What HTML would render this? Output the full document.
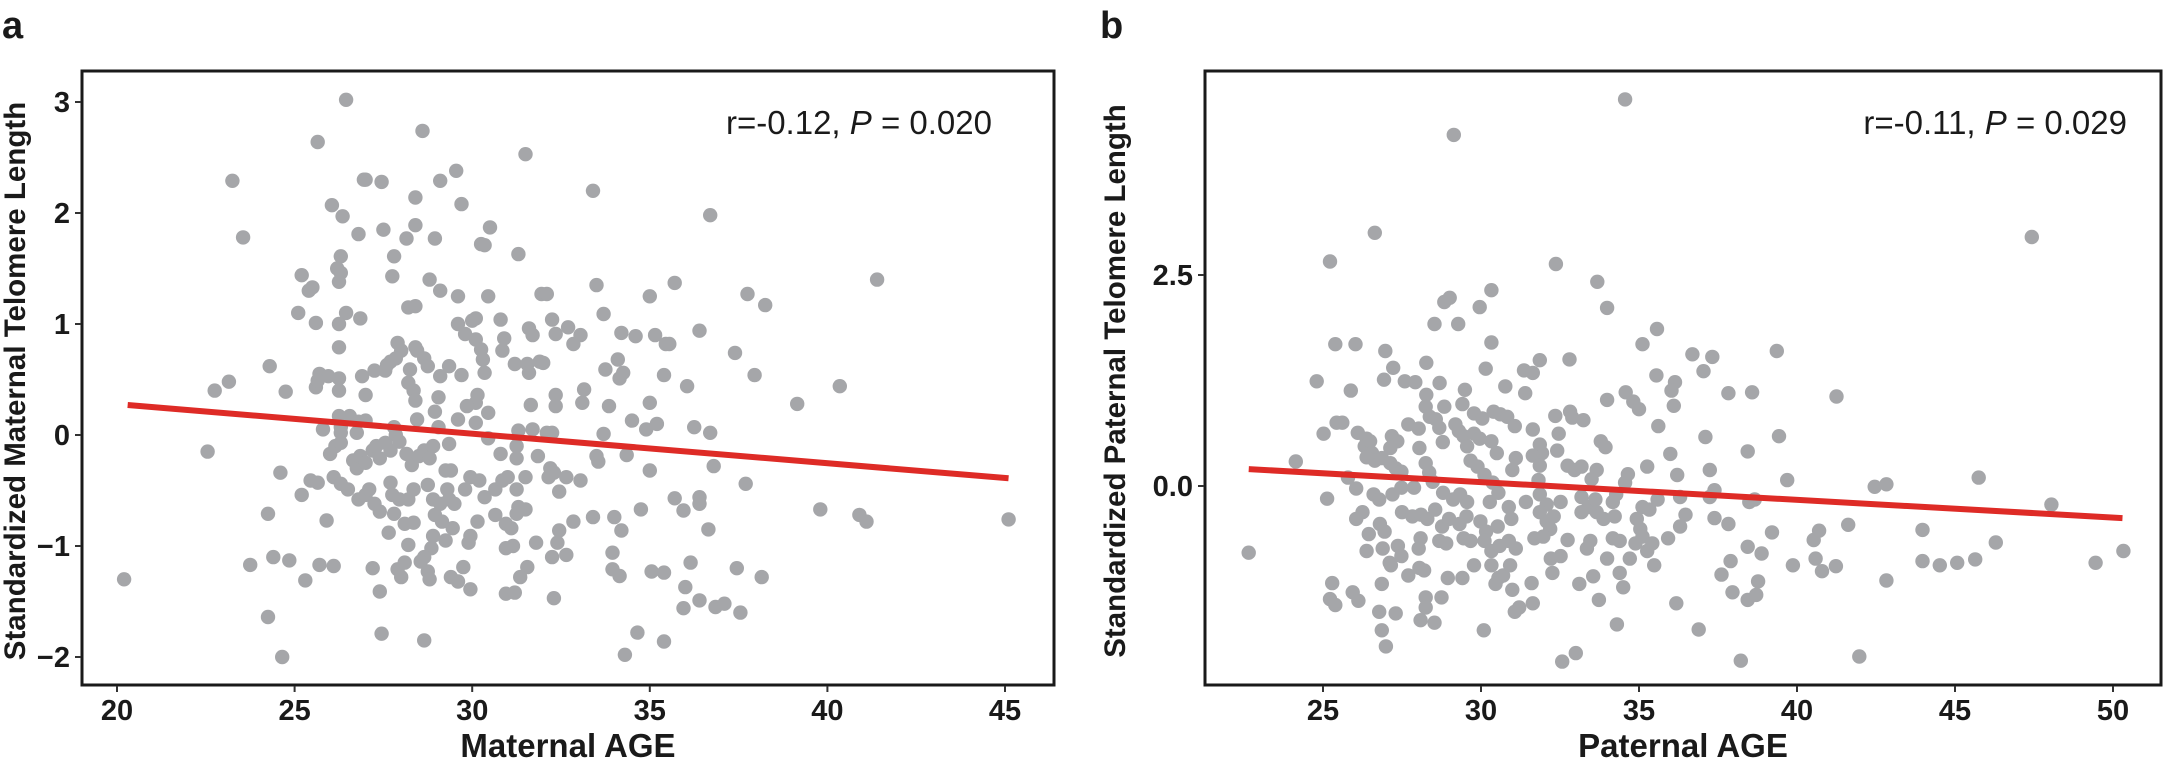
<!DOCTYPE html>
<html><head><meta charset="utf-8"><style>
html,body{margin:0;padding:0;background:#fff;}
svg{display:block;font-family:"Liberation Sans",Arial,sans-serif;}
</style></head><body>
<svg id="fig" width="2165" height="760" viewBox="0 0 2165 760" xmlns="http://www.w3.org/2000/svg">
<text x="2" y="38" font-size="38" font-weight="bold" fill="#1a1a1a">a</text>
<text x="1100" y="38" font-size="38" font-weight="bold" fill="#1a1a1a">b</text>
<g id="pa"></g>
<g id="pb"></g>
</svg>
<script>
// Panel a data (Maternal AGE vs standardized maternal telomere length)
const aAge = [26.45,28.6,25.65,31.5,23.25,26.95,27.0,27.45,29.1,29.55,33.4,28.4,26.05,29.7,26.35,36.7,23.55,26.8,27.5,28.4,30.5,28.15,28.95,30.25,30.35,27.8,31.3,26.3,26.2,26.3,26.25,25.2,25.4,25.5,27.75,28.8,29.1,29.6,30.45,33.5,35.7,35,37.75,38.25,41.4,31.95,32.1,25.1,25.6,26.45,26.25,26.85,28.2,28.4,33.7,29.6,30.0,30.1,30.8,32.25,31.6,31.7,32.7,33.05,32.85,34.2,34.6,35.15,35.45,35.55,36.4,37.4,26.25,27.9,28.0,28.4,28.45,28.65,29.8,30.1,30.25,30.9,30.85,32.35,31.2,31.55,31.9,32.0,30.3,27.7,27.85,27.6,34.1,24.3,25.7,26.25,25.95,26.9,27.25,27.55,28.25,28.2,28.75,29.1,29.35,29.7,30.35,31.6,33.75,34.15,34.25,35.4,37.95,23.15,22.75,24.75,25.6,25.65,26.25,27.0,28.35,28.4,29.05,30.15,30.1,29.85,31.65,33.15,33.1,33.85,35.0,36.05,39.15,40.35,32.35,32.35,28.95,30.45,26.25,26.55,25.8,26.3,26.8,27.0,28.45,29.05,29.6,30.1,34.5,34.9,35.2,36.25,36.7,31.3,31.7,32.1,32.25,26.3,26.75,27.8,27.85,22.55,24.6,26.0,26.15,26.3,26.65,26.75,26.85,27.0,27.2,27.3,27.4,27.55,27.7,27.95,28.15,28.3,28.5,28.65,28.8,28.9,29.35,29.25,29.4,30.45,30.8,31.25,31.25,31.85,32.2,32.3,32.15,32.65,33.05,33.5,33.55,33.7,34.35,35.0,36.8,37.7,25.45,25.65,25.2,26.1,26.3,26.5,26.8,27.0,27.25,27.1,27.7,27.75,27.95,28.2,28.35,28.75,28.9,29.1,29.35,29.5,29.3,29.8,29.95,30.2,30.35,30.65,30.85,31.0,31.25,31.5,31.3,31.5,31.25,32.45,24.25,25.9,27.4,27.8,28.1,28.35,28.95,29.15,29.45,30.15,30.65,30.95,31.1,32.85,33.4,34.0,34.75,35.7,35.95,36.4,36.4,36.65,39.8,40.9,41.1,45.1,27.65,28.9,29.25,28.85,28.65,29.95,29.9,31.15,30.95,31.8,32.45,32.4,34.2,33.95,28.2,24.4,24.85,23.75,20.2,25.7,26.1,25.3,27.2,27.9,28.0,28.1,28.55,28.75,28.8,29.4,29.6,29.75,29.95,31.55,31.35,32.25,32.65,33.95,34.15,35.05,35.4,36.15,37.45,38.15,30.95,31.2,27.4,32.3,36.0,35.95,36.4,36.85,37.1,37.55,24.25,27.45,28.65,34.65,35.4,24.65,34.3];
const aTel = [3.02,2.74,2.64,2.53,2.29,2.3,2.3,2.28,2.29,2.38,2.2,2.14,2.07,2.08,1.97,1.98,1.78,1.81,1.85,1.89,1.87,1.77,1.77,1.72,1.71,1.61,1.63,1.61,1.5,1.46,1.38,1.44,1.3,1.33,1.43,1.4,1.3,1.25,1.25,1.35,1.37,1.25,1.27,1.17,1.4,1.27,1.27,1.1,1.01,1.1,1.0,1.05,1.15,1.16,1.09,1.0,1.03,1.05,1.04,1.04,0.96,0.9,0.97,0.9,0.82,0.92,0.89,0.9,0.82,0.82,0.94,0.74,0.79,0.83,0.76,0.79,0.76,0.69,0.91,0.86,0.77,0.87,0.76,0.91,0.64,0.64,0.66,0.65,0.68,0.66,0.69,0.63,0.68,0.62,0.55,0.51,0.53,0.53,0.58,0.58,0.59,0.47,0.62,0.53,0.62,0.54,0.56,0.56,0.59,0.51,0.56,0.54,0.54,0.48,0.4,0.39,0.43,0.49,0.4,0.36,0.4,0.31,0.34,0.36,0.29,0.26,0.27,0.41,0.29,0.26,0.29,0.44,0.28,0.44,0.36,0.26,0.21,0.2,0.17,0.17,0.05,0.07,0.12,0.13,0.14,0.07,0.14,0.11,0.13,0.05,0.1,0.07,0.02,0.04,0.05,0.02,0.02,0.02,0.02,0.07,0,-0.15,-0.34,-0.17,-0.1,-0.07,-0.23,-0.3,-0.19,-0.25,-0.14,-0.1,-0.21,-0.07,-0.14,-0.06,-0.17,-0.27,-0.19,-0.14,-0.21,-0.1,-0.08,-0.32,-0.32,-0.03,-0.17,-0.21,-0.1,-0.19,-0.3,-0.34,-0.38,-0.38,-0.41,-0.19,-0.24,0.01,-0.18,-0.32,-0.28,-0.44,-0.41,-0.43,-0.54,-0.38,-0.44,-0.49,-0.58,-0.54,-0.62,-0.49,-0.43,-0.54,-0.58,-0.58,-0.49,-0.45,-0.58,-0.62,-0.58,-0.62,-0.49,-0.49,-0.38,-0.41,-0.56,-0.49,-0.41,-0.38,-0.49,-0.38,-0.65,-0.67,-0.71,-0.51,-0.71,-0.77,-0.69,-0.71,-0.8,-0.79,-0.72,-0.78,-0.84,-0.78,-0.72,-0.8,-0.84,-0.78,-0.74,-0.74,-0.67,-0.57,-0.68,-0.56,-0.62,-0.85,-0.67,-0.72,-0.78,-0.76,-0.88,-0.91,-0.95,-1.02,-1.1,-0.91,-0.97,-1.0,-1.02,-0.97,-0.86,-0.97,-0.86,-1.06,-0.99,-1.1,-1.13,-1.17,-1.3,-1.17,-1.18,-1.31,-1.2,-1.21,-1.28,-1.15,-1.14,-1.23,-1.3,-1.28,-1.32,-1.19,-1.39,-1.19,-1.28,-1.1,-1.08,-1.21,-1.27,-1.23,-1.24,-1.15,-1.2,-1.28,-1.43,-1.42,-1.41,-1.47,-1.37,-1.56,-1.49,-1.55,-1.52,-1.6,-1.64,-1.79,-1.85,-1.78,-1.86,-2.0,-1.98];
const aFitX = [20.3, 45.1];
const aFitY = [0.27, -0.39];
const aXTicks = [20,25,30,35,40,45];
const aYTicks = [3,2,1,0,-1,-2];
const aYTickLabels = ["3","2","1","0","\u22121","\u22122"];

// Panel b data (Paternal AGE vs standardized paternal telomere length)
const bAge = [34.56,29.14,47.43,26.64,25.22,32.37,33.68,30.33,28.84,29.01,29.96,33.99,28.53,29.28,35.57,25.39,26.03,30.33,35.11,26.97,39.36,36.69,37.32,32.8,31.86,28.27,27.22,31.36,31.64,30.15,37.04,35.55,24.8,26.93,27.59,27.92,28.69,30.77,36.14,36.03,25.88,29.49,31.4,34.58,37.83,38.58,41.25,28.27,28.25,28.38,28.84,29.41,29.78,30.04,33.99,34.82,35.0,36.1,30.4,30.61,30.83,32.82,32.89,33.24,32.35,25.43,25.61,27.7,28.03,28.57,28.68,29.19,29.3,31.07,31.64,35.61,25.02,26.1,26.38,26.32,26.49,27.18,27.35,27.13,28.05,28.79,29.45,29.56,29.78,29.96,30.33,32.46,32.41,31.86,31.93,33.79,33.94,37.1,39.43,38.44,35.99,24.14,26.55,26.64,26.38,26.86,27.13,27.3,27.48,28.36,28.25,28.47,29.67,29.89,30.11,30.37,30.5,31.1,30.99,31.64,31.86,31.82,32.74,32.96,33.18,33.66,33.5,34.65,34.56,35.26,36.21,37.24,39.69,42.46,42.83,45.75,48.05,25.79,26.05,25.13,26.6,26.78,27.2,27.48,27.88,28.8,29.12,29.34,29.56,30.28,30.55,30.88,31.42,31.86,32.08,32.52,33.18,33.4,33.62,34.17,34.28,35.11,35.59,36.3,37.39,37.24,38.49,38.66,26.25,26.05,26.8,26.95,26.45,27.5,27.83,28.1,28.3,28.55,28.77,28.99,29.32,29.54,29.98,30.16,30.53,30.96,31.86,32.08,32.19,32.3,33.18,33.66,33.88,34.23,34.93,35.04,35.11,35.33,36.47,36.3,37.39,37.83,39.21,40.7,40.53,41.62,43.97,46.29,22.65,26.38,26.89,27.37,27.48,27.15,28.09,28.03,28.68,28.9,29.45,29.67,30.11,30.33,30.59,30.88,31.1,31.69,31.97,32.21,32.52,32.74,33.35,33.46,34.17,34.39,34.89,35.26,35.42,35.92,38.44,38.88,40.59,39.87,41.23,40.79,43.97,44.52,45.07,45.64,49.45,50.33,27.11,27.7,28.05,28.2,28.95,29.41,29.78,30.33,30.55,30.7,30.92,30.46,31.6,32.26,33.11,33.55,33.99,34.39,34.71,35.48,37.61,37.9,42.83,25.29,25.94,26.12,26.86,25.22,25.39,28.25,28.75,28.25,30.99,31.64,31.21,31.07,34.5,33.73,37.96,38.44,38.71,38.77,36.18,26.78,27.3,28.09,28.53,26.86,26.99,30.09,34.3,36.89,32.57,33.0,38.22,41.97];
const bTel = [4.58,4.16,2.95,3.0,2.66,2.63,2.42,2.32,2.18,2.23,2.12,2.11,1.92,1.92,1.86,1.68,1.68,1.7,1.68,1.6,1.6,1.56,1.53,1.5,1.49,1.46,1.4,1.37,1.34,1.39,1.36,1.31,1.24,1.26,1.24,1.23,1.22,1.18,1.23,1.13,1.13,1.14,1.1,1.11,1.1,1.11,1.06,1.08,0.94,0.82,0.94,0.97,0.86,0.8,1.02,1.0,0.91,0.95,0.88,0.85,0.82,0.88,0.81,0.78,0.83,0.75,0.75,0.73,0.68,0.79,0.69,0.73,0.65,0.71,0.67,0.71,0.62,0.63,0.56,0.47,0.53,0.59,0.53,0.45,0.45,0.52,0.59,0.47,0.62,0.56,0.53,0.62,0.42,0.49,0.39,0.53,0.46,0.58,0.59,0.41,0.38,0.29,0.39,0.3,0.34,0.33,0.27,0.21,0.17,0.16,0.27,0.05,0.3,0.23,0.13,0.04,0.39,0.33,0.19,0.36,0.24,0.07,0.24,0.19,0.23,0.19,0.08,0.14,0.04,0.23,0.13,0.19,0.07,-0.01,0.02,0.1,-0.22,0.1,-0.03,-0.15,-0.1,-0.16,-0.1,-0.02,-0.02,-0.08,-0.16,-0.1,-0.19,-0.19,-0.08,-0.25,-0.19,-0.1,-0.22,-0.19,-0.13,-0.25,-0.16,-0.19,-0.1,-0.25,-0.16,-0.13,-0.05,-0.13,-0.19,-0.16,-0.31,-0.39,-0.45,-0.54,-0.57,-0.31,-0.36,-0.34,-0.39,-0.28,-0.48,-0.39,-0.45,-0.36,-0.42,-0.54,-0.48,-0.39,-0.31,-0.42,-0.51,-0.36,-0.31,-0.31,-0.39,-0.36,-0.39,-0.51,-0.6,-0.28,-0.34,-0.48,-0.38,-0.45,-0.55,-0.53,-0.64,-0.46,-0.52,-0.67,-0.79,-0.77,-0.74,-0.71,-0.83,-0.94,-0.62,-0.74,-0.65,-0.68,-0.62,-0.65,-0.65,-0.77,-0.71,-0.65,-0.74,-0.62,-0.6,-0.86,-0.83,-0.64,-0.74,-0.65,-0.62,-0.65,-0.68,-0.77,-0.68,-0.62,-0.72,-0.8,-0.86,-0.94,-0.95,-1.01,-0.89,-0.94,-0.91,-0.87,-0.91,-0.77,-0.91,-1.06,-0.97,-1.0,-1.09,-1.09,-0.94,-0.94,-1.09,-1.06,-0.94,-1.16,-1.15,-1.03,-1.16,-1.07,-0.86,-1.03,-0.86,-0.94,-1.05,-0.89,-1.12,-1.15,-1.26,-1.36,-1.16,-1.34,-1.41,-1.32,-1.32,-1.44,-1.23,-1.39,-1.44,-1.49,-1.2,-1.35,-1.26,-1.35,-1.29,-1.13,-1.39,-1.49,-1.51,-1.59,-1.62,-1.71,-1.9,-1.71,-1.64,-1.7,-2.08,-1.98,-2.07,-2.02];
const bFitX = [22.65, 50.3];
const bFitY = [0.2, -0.38];
const bXTicks = [25,30,35,40,45,50];
const bYTicks = [2.5,0];
const bYTickLabels = ["2.5","0.0"];

const NS = "http://www.w3.org/2000/svg";
function mk(tag, attrs, parent){
  const e = document.createElementNS(NS, tag);
  for (const k in attrs) e.setAttribute(k, attrs[k]);
  parent.appendChild(e);
  return e;
}
function linear(d0,d1,r0,r1){ return v => r0 + (v-d0)*(r1-r0)/(d1-d0); }

function drawPanel(g, cfg){
  const {box, sx, sy, ages, tels, fitX, fitY, xTicks, yTicks, yLabels, xTitle, yTitle, yTitleX, annotX, annotR, annotP, pfx} = cfg;
  const pts = mk('g', {}, g);
  
  
  for (let i=0;i<ages.length;i++){
    const c = mk('circle', {cx: sx(ages[i]).toFixed(1), cy: sy(tels[i]).toFixed(1), r: 7.2, fill: '#a5a6a9'}, pts);
    
    
  }
  const ln = mk('line', {x1: sx(fitX[0]), y1: sy(fitY[0]), x2: sx(fitX[1]), y2: sy(fitY[1]), stroke: '#de2b26', 'stroke-width': 6}, g);
  
  
  const rc = mk('rect', {x: box.x0, y: box.y0, width: box.x1-box.x0, height: box.y1-box.y0, fill: 'none', stroke: '#1a1a1a', 'stroke-width': 3}, g);
  
  
  for (const t of xTicks){
    const x = sx(t);
    const tk = mk('line', {x1: x, y1: box.y1+1, x2: x, y2: box.y1+7, stroke: '#333', 'stroke-width': 2}, g);
    
    
    const tx = mk('text', {x: x, y: 720, 'text-anchor': 'middle', 'font-size': 29, 'font-weight': 'bold', fill: '#1a1a1a'}, g);
    tx.textContent = String(t);
    
    
  }
  yTicks.forEach((t,i)=>{
    const y = sy(t);
    const tk = mk('line', {x1: box.x0-7, y1: y, x2: box.x0-1, y2: y, stroke: '#333', 'stroke-width': 2}, g);
    
    
    const tx = mk('text', {x: box.x0-12, y: y+10, 'text-anchor': 'end', 'font-size': 29, 'font-weight': 'bold', fill: '#1a1a1a'}, g);
    tx.textContent = yLabels[i];
    
    
  });
  const xt = mk('text', {x: (box.x0+box.x1)/2, y: 757, 'text-anchor': 'middle', 'font-size': 33, 'font-weight': 'bold', fill: '#1a1a1a'}, g);
  xt.textContent = xTitle;
  
  
  const yt = mk('text', {x: 0, y: 0, 'text-anchor': 'middle', 'font-size': 29.5, 'font-weight': 'bold', fill: '#1a1a1a', transform: `translate(${yTitleX},${(box.y0+box.y1)/2+3}) rotate(-90)`}, g);
  yt.textContent = yTitle;
  
  
  const an = mk('text', {x: annotX, y: 134, 'text-anchor': 'end', 'font-size': 33, fill: '#1a1a1a'}, g);
  
  
  const s1 = mk('tspan', {}, an); s1.textContent = annotR + ', ';
  const s2 = mk('tspan', {'font-style': 'italic'}, an); s2.textContent = 'P';
  const s3 = mk('tspan', {}, an); s3.textContent = ' = ' + annotP;
}

const boxA = {x0: 82, x1: 1054, y0: 71, y1: 685};
drawPanel(document.getElementById('pa'), {
  box: boxA, sx: linear(20,45,117,1005), sy: linear(3,-2,102,657),
  ages: aAge, tels: aTel, fitX: aFitX, fitY: aFitY, xTicks: aXTicks, yTicks: aYTicks, yLabels: aYTickLabels,
  xTitle: 'Maternal AGE', yTitle: 'Standardized Maternal Telomere Length', yTitleX: 25,
  annotX: 992, annotR: 'r=-0.12', annotP: '0.020', pfx: 'panel-a'
});
const boxB = {x0: 1205, x1: 2161, y0: 71, y1: 685};
drawPanel(document.getElementById('pb'), {
  box: boxB, sx: linear(25,50,1323,2113), sy: linear(2.5,0,275,486),
  ages: bAge, tels: bTel, fitX: bFitX, fitY: bFitY, xTicks: bXTicks, yTicks: bYTicks, yLabels: bYTickLabels,
  xTitle: 'Paternal AGE', yTitle: 'Standardized Paternal Telomere Length', yTitleX: 1125,
  annotX: 2127, annotR: 'r=-0.11', annotP: '0.029', pfx: 'panel-b'
});
</script>
</body></html>
